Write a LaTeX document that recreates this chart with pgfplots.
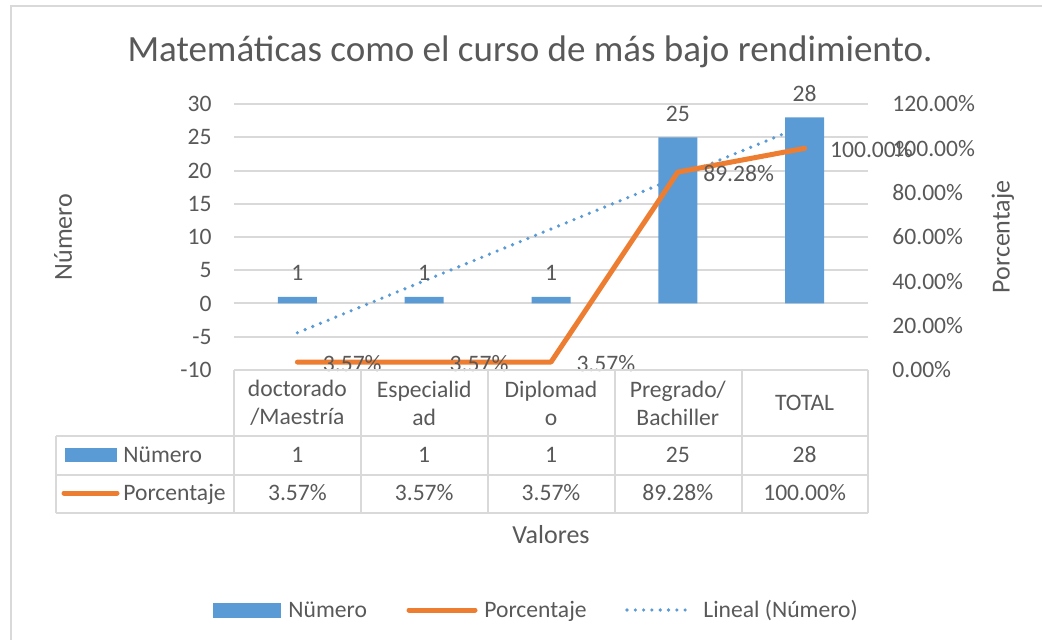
\documentclass[border=0pt]{standalone}
\usepackage{pgfplots}
\usepackage{pgfplotstable}
\pgfplotsset{compat=1.18}
\usepackage{fontspec}
\setmainfont{Carlito}
\definecolor{txt}{HTML}{595959}
\definecolor{barblue}{HTML}{5B9BD5}
\definecolor{lineor}{HTML}{ED7D31}
\definecolor{gridc}{HTML}{D9D9D9}
\newcommand{\fs}{\fontsize{11.8}{14}\selectfont}
\pgfplotsset{/pgf/number format/assume math mode=true}

\pgfplotstableread{
x n p
1 1 3.57
2 1 3.57
3 1 3.57
4 25 89.28
5 28 100
}\datatable

\begin{document}
\begin{tikzpicture}[font=\fs, text=txt]
\path[use as bounding box] (0,0) rectangle (521pt,-320pt);
% chart border
\draw[gridc, line width=1pt] (5.5pt,-330pt) -- (5.5pt,-3pt) -- (530pt,-3pt);

\begin{axis}[
  at={(117pt,-185pt)}, anchor=south west,
  width=317pt, height=133pt, scale only axis,
  xmin=0.5, xmax=5.5, ymin=-10, ymax=30,
  ytick={-10,-5,...,30},
  xtick=\empty,
  axis line style={draw=none},
  major tick length=0pt,
  ymajorgrids, grid style={gridc, line width=1pt},
  y tick label style={font=\fs, text=txt, inner sep=0pt, xshift=-11pt},
  clip=false,
]
\addplot[barblue, line width=1.8pt, line cap=round, dash pattern=on 0pt off 4.15pt]
  table[x=x, y={create col/linear regression={y=n}}] {\datatable};
\addplot[ybar, bar width=19.5pt, fill=barblue, draw=none,
  nodes near coords,
  every node near coord/.append style={font=\fs, text=txt, anchor=center, yshift=11.8pt}]
  table[x=x, y=n] {\datatable};
\end{axis}

\begin{axis}[
  at={(117pt,-185pt)}, anchor=south west,
  width=317pt, height=133pt, scale only axis,
  xmin=0.5, xmax=5.5, ymin=0, ymax=120,
  axis y line*=right, axis x line=none,
  ytick={0,20,...,120},
  yticklabel={\pgfmathprintnumber[fixed,fixed zerofill,precision=2]{\tick}\%},
  axis line style={draw=none},
  major tick length=0pt,
  y tick label style={font=\fs, text=txt, inner sep=0pt, xshift=12pt},
  clip=false,
]
\addplot[lineor, line width=2.5pt, line join=round, line cap=round,
  point meta=y,
  nodes near coords={\pgfmathprintnumber[fixed,fixed zerofill,precision=2]{\pgfplotspointmeta}\%},
  every node near coord/.append style={font=\fs, text=txt, anchor=west, inner sep=0pt, xshift=11.5pt, yshift=-0.5pt}]
  table[x=x, y=p] {\datatable};
\end{axis}

% title
\node[anchor=base, font=\fontsize{18.5}{22}\selectfont] at (265pt,-31pt) {Matemáticas como el curso de más bajo rendimiento.};
% axis titles
\node[rotate=90, font=\fontsize{13}{15}\selectfont] at (31.5pt,-118.5pt) {Número};
\node[rotate=90, font=\fontsize{13}{15}\selectfont] at (501.5pt,-118.5pt) {Porcentaje};
\node[font=\fontsize{13}{15}\selectfont] at (275.5pt,-267.5pt) {Valores};

% data table
\begin{scope}[gridc, line width=1pt]
\draw (117pt,-185pt) -- (434pt,-185pt);
\draw (28pt,-218pt) -- (434pt,-218pt);
\draw (28pt,-237.5pt) -- (434pt,-237.5pt);
\draw (28pt,-256.5pt) -- (434pt,-256.5pt);
\draw (28pt,-218pt) -- (28pt,-256.5pt);
\foreach \xx in {117,180.5,244,307.5,371,434}
  \draw (\xx pt,-185pt) -- (\xx pt,-256.5pt);
\end{scope}
\begin{scope}[every node/.style={align=center, font=\fs, text=txt}]
\node at (148.7pt,-201.5pt) {doctorado\\/Maestría};
\node at (212.1pt,-201.5pt) {Especialid\\ad};
\node at (275.5pt,-201.5pt) {Diplomad\\o};
\node at (338.9pt,-201.5pt) {Pregrado/\\Bachiller};
\node at (402.3pt,-201.5pt) {TOTAL};
\end{scope}
\begin{scope}[every node/.style={anchor=base, font=\fs, text=txt}]
\node at (148.7pt,-231.3pt) {1};
\node at (212.1pt,-231.3pt) {1};
\node at (275.5pt,-231.3pt) {1};
\node at (338.9pt,-231.3pt) {25};
\node at (402.3pt,-231.3pt) {28};
\node at (148.7pt,-250.3pt) {3.57\%};
\node at (212.1pt,-250.3pt) {3.57\%};
\node at (275.5pt,-250.3pt) {3.57\%};
\node at (338.9pt,-250.3pt) {89.28\%};
\node at (402.3pt,-250.3pt) {100.00\%};
\end{scope}
\fill[barblue] (32.5pt,-224pt) rectangle (58.5pt,-231pt);
\node[anchor=base west, inner sep=0pt] at (61.5pt,-231.3pt) {Nümero};
\draw[lineor, line width=2.5pt, line cap=round] (32pt,-246.5pt) -- (58.5pt,-246.5pt);
\node[anchor=base west, inner sep=0pt] at (61.5pt,-250.3pt) {Porcentaje};

% legend
\fill[barblue] (106.5pt,-301.25pt) rectangle (140.5pt,-308.75pt);
\node[anchor=base west, inner sep=0pt] at (144pt,-308.8pt) {Nümero};
\draw[lineor, line width=2.5pt, line cap=round] (204.5pt,-305pt) -- (237.5pt,-305pt);
\node[anchor=base west, inner sep=0pt] at (242pt,-308.8pt) {Porcentaje};
\draw[barblue, line width=1.8pt, line cap=round, dash pattern=on 0pt off 4.15pt] (313.5pt,-305pt) -- (346pt,-305pt);
\node[anchor=base west, inner sep=0pt] at (351.5pt,-308.8pt) {Lineal (Número)};
\end{tikzpicture}
\end{document}
